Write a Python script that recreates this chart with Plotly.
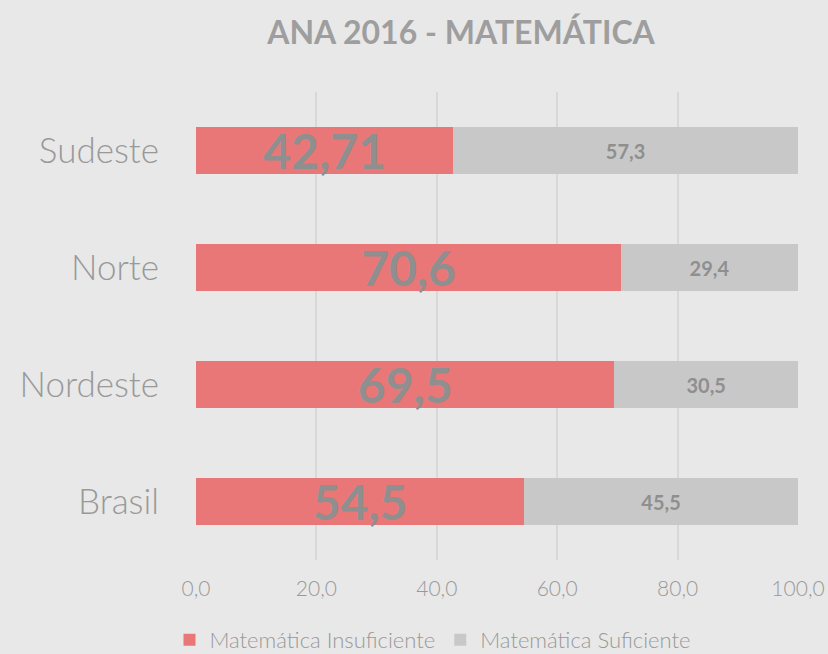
import plotly.graph_objects as go

categories = ["Brasil", "Nordeste", "Norte", "Sudeste"]
insuficiente = [54.5, 69.5, 70.6, 42.71]
suficiente = [45.5, 30.5, 29.4, 57.3]
tick_vals = [0, 20, 40, 60, 80, 100]

def fmt(v):
    return f"{v:g}".replace(".", ",")

FONT = "Lato"
fig = go.Figure()
fig.add_trace(go.Bar(
    y=categories, x=insuficiente, orientation="h", name="Matemática Insuficiente",
    marker=dict(color="#E97777", line=dict(width=0)),
    text=[fmt(v) for v in insuficiente], textposition="inside", insidetextanchor="middle",
    textangle=0, constraintext="none",
    textfont=dict(family=FONT, size=48, color="#8F8F8F", weight="bold"),
    hoverinfo="skip",
))
fig.add_trace(go.Bar(
    y=categories, x=suficiente, orientation="h", name="Matemática Suficiente",
    marker=dict(color="#C8C8C8", line=dict(width=0)),
    text=[fmt(v) for v in suficiente], textposition="inside", insidetextanchor="middle",
    textangle=0, constraintext="none",
    textfont=dict(family=FONT, size=20, color="#8F8F8F", weight="bold"),
    hoverinfo="skip",
))
fig.update_layout(
    width=828, height=654,
    barmode="stack", bargap=0.6,
    paper_bgcolor="#E8E8E8", plot_bgcolor="#E8E8E8",
    separators=",.",
    margin=dict(l=196, r=30, t=92, b=94, autoexpand=False),
    title=dict(text="<b>ANA 2016 - MATEMÁTICA</b>", x=461/828, xanchor="center",
               y=1 - 33/654, yanchor="middle",
               font=dict(family=FONT, size=32, color="#9E9E9E")),
    xaxis=dict(range=[0, 100], tickvals=tick_vals, tickformat=".1f",
               showgrid=True, gridcolor="#D8D8D8", gridwidth=2, zeroline=False,
               showline=False, ticks="", ticklabelstandoff=14, automargin=False,
               tickfont=dict(family=FONT, size=21, color="#999999", weight=300)),
    yaxis=dict(showgrid=False, showline=False, ticks="", ticklabelstandoff=36, automargin=False,
               tickfont=dict(family=FONT, size=35, color="#999999", weight=300)),
    legend=dict(orientation="h", x=(433 - 196) / 602, xanchor="center",
                y=(560 - 640) / 468, yanchor="middle",
                font=dict(family=FONT, size=22, color="#999999", weight=300), traceorder="normal"),
    showlegend=True,
)
fig.write_html("out.html", config={"displayModeBar": False},
               post_script="document.body.style.margin='0';document.body.style.overflow='hidden';")
